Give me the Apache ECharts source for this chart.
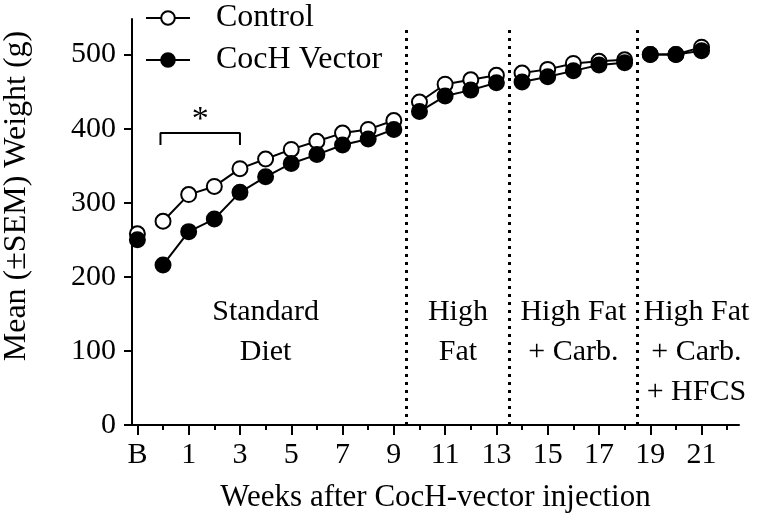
<!DOCTYPE html>
<html><head><meta charset="utf-8">
<script src="https://cdn.jsdelivr.net/npm/echarts@6/dist/echarts.min.js"></script>
<style>html,body{margin:0;padding:0;background:#fff}#c{width:773px;height:526px}</style>
</head><body><div id="c"></div>
<script>
// ---- data ----
const weeks = [-1,0,1,2,3,4,5,6,7,8,9,10,11,12,13,14,15,16,17,18,19,20,21];
const controlWeight = [258,275,311,322,346,359,372,383,394,399,411,436,460,466,472,475,480,488,491,493,500,500,510];
const cochWeight    = [250,216,261,278,314,335,353,365,378,386,399,423,444,452,462,463,470,478,486,489,500,500,505];
const xMajorTicks = [-1,1,3,5,7,9,11,13,15,17,19,21];
const xMinorTicks = [0,2,4,6,8,10,12,14,16,18,20,22];
const yTicks = [0,100,200,300,400,500];
const segmentBreaks = [-0.5, 9.5, 13.5, 18.5];
const phaseBoundaries = [9.5, 13.5, 18.5];
const phaseLabels = ['Standard\nDiet', 'High\nFat', 'High Fat\n+ Carb.', 'High Fat\n+ Carb.\n+ HFCS'];
const phaseLabelX = [4, 11.5, 16, 20.8];
const phaseLabelY = 180;
const bracketX = [-0.1, 3];
const bracketY = [378, 394];
const starPos = [1.45, 412];
const xMin = -1.21, xMax = 22.46, yMax = 548;

const FONT = 'Liberation Serif';

function buildData(vals) {
  const out = [];
  weeks.forEach((w, i) => {
    if (i > 0 && segmentBreaks.some(b => b > weeks[i-1] && b < w)) out.push([(weeks[i-1] + w) / 2, '-']);
    out.push([w, vals[i]]);
  });
  return out;
}

const chart = echarts.init(document.getElementById('c'), null, {renderer: 'canvas'});
const txt = {fontFamily: FONT, color: '#000'};
chart.setOption({
  animation: false,
  grid: {left: 132, right: 34, top: 19, bottom: 101, containLabel: false, outerBoundsMode: 'none'},
  legend: {
    data: ['Control', 'CocH Vector'],
    orient: 'vertical', left: 145, top: 2, padding: 0,
    itemWidth: 44, itemHeight: 17, itemGap: 10,
    itemStyle: {borderWidth: 2, borderColor: '#000'},
    textStyle: Object.assign({fontSize: 32, padding: [0, 0, 0, 21]}, txt)
  },
  xAxis: [{
    type: 'value', min: xMin, max: xMax, position: 'bottom',
    axisLine: {show: true, onZero: false, lineStyle: {color: '#000', width: 2}},
    axisTick: {show: true, customValues: xMajorTicks, length: 10, lineStyle: {color: '#000', width: 2}},
    axisLabel: Object.assign({customValues: xMajorTicks, fontSize: 30, margin: 15,
      formatter: v => v === -1 ? 'B' : String(v)}, txt),
    splitLine: {show: false},
    name: 'Weeks after CocH-vector injection', nameLocation: 'middle', nameGap: 57,
    nameTextStyle: Object.assign({fontSize: 31}, txt)
  }, {
    type: 'value', min: xMin, max: xMax, position: 'bottom',
    axisLine: {show: false, onZero: false},
    axisTick: {show: true, customValues: xMinorTicks, length: 5, lineStyle: {color: '#000', width: 2}},
    axisLabel: {show: false}, splitLine: {show: false}
  }],
  yAxis: {
    type: 'value', min: 0, max: yMax,
    axisLine: {show: true, onZero: false, lineStyle: {color: '#000', width: 2}},
    axisTick: {show: true, customValues: yTicks, length: 8, lineStyle: {color: '#000', width: 2}},
    axisLabel: Object.assign({customValues: yTicks, fontSize: 30, margin: 16}, txt),
    splitLine: {show: false},
    name: 'Mean (±SEM) Weight (g)', nameLocation: 'middle', nameGap: 99,
    nameTextStyle: Object.assign({fontSize: 32, padding: [0, 0, 0, 52]}, txt)
  },
  series: [{
    name: 'Control', type: 'line', data: buildData(controlWeight),
    symbol: 'circle', symbolSize: 15, showSymbol: true, connectNulls: false,
    lineStyle: {color: '#000', width: 2},
    itemStyle: {color: '#fff', borderColor: '#000', borderWidth: 2},
    emphasis: {disabled: true}, z: 3
  }, {
    name: 'CocH Vector', type: 'line', data: buildData(cochWeight),
    symbol: 'circle', symbolSize: 15, showSymbol: true, connectNulls: false,
    lineStyle: {color: '#000', width: 2},
    itemStyle: {color: '#000', borderColor: '#000', borderWidth: 2},
    emphasis: {disabled: true}, z: 4
  }, {
    name: 'bracket', type: 'line',
    data: [[bracketX[0], bracketY[0]], [bracketX[0], bracketY[1]], [bracketX[1], bracketY[1]], [bracketX[1], bracketY[0]]],
    symbol: 'none', lineStyle: {color: '#000', width: 2}, silent: true,
    markLine: {
      silent: true, symbol: ['none', 'none'], label: {show: false},
      lineStyle: {color: '#000', width: 3, type: [3, 5]},
      data: phaseBoundaries.map(x => [{coord: [x, 0]}, {coord: [x, 540]}])
    }
  }, {
    name: 'star', type: 'scatter', data: [starPos], symbolSize: 0, silent: true,
    itemStyle: {opacity: 1},
    label: Object.assign({show: true, position: 'inside', formatter: '*', fontSize: 34}, txt)
  }, {
    name: 'phases', type: 'scatter', silent: true, symbolSize: 0,
    itemStyle: {opacity: 1},
    data: phaseLabelX.map((x, i) => ({value: [x, phaseLabelY], name: phaseLabels[i]})),
    label: Object.assign({show: true, position: 'inside', verticalAlign: 'top', align: 'center',
      lineHeight: 40, fontSize: 30, formatter: p => p.name}, txt)
  }]
});
</script></body></html>
